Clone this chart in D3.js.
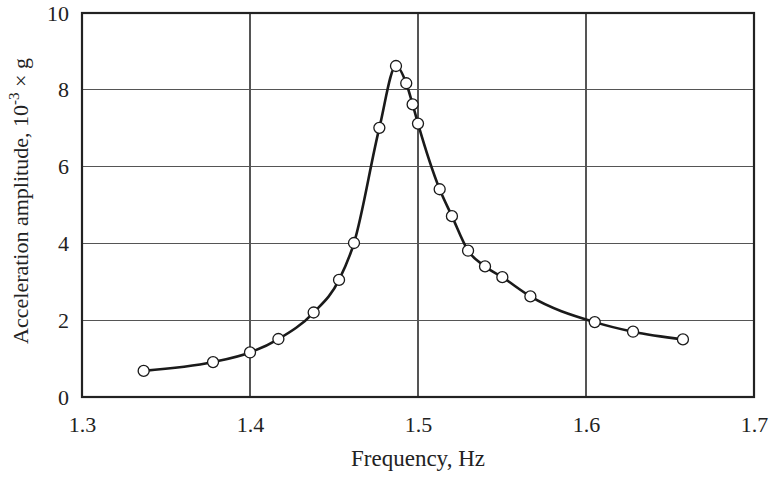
<!DOCTYPE html>
<html>
<head>
<meta charset="utf-8">
<script src="https://cdn.jsdelivr.net/npm/d3@7"></script>
<style>
  html, body { margin: 0; padding: 0; background: #fff; }
  svg { display: block; }
  text { font-family: "Liberation Serif", "Times New Roman", serif; fill: #222; }
</style>
</head>
<body>
<svg id="chart" width="772" height="479"></svg>
<script>
const frequency = [1.3367, 1.378, 1.400, 1.4169, 1.4379, 1.453, 1.4619, 1.477, 1.4869, 1.4930, 1.4968, 1.500, 1.5129, 1.5202, 1.5298, 1.5399, 1.5502, 1.5669, 1.6052, 1.628, 1.6577];
const amplitude = [0.68, 0.91, 1.16, 1.51, 2.2, 3.05, 4.01, 7.01, 8.62, 8.17, 7.62, 7.12, 5.41, 4.71, 3.81, 3.40, 3.12, 2.62, 1.95, 1.70, 1.50];
const xTicks = [1.3, 1.4, 1.5, 1.6, 1.7];
const xTickLabels = ["1.3", "1.4", "1.5", "1.6", "1.7"];
const yTicks = [0, 2, 4, 6, 8, 10];
const yTickLabels = ["0", "2", "4", "6", "8", "10"];
const xTitle = "Frequency, Hz";
const yTitleMain = "Acceleration amplitude, 10";
const yTitleSup = "-3";
const yTitleEnd = " \u00D7 g";

const svg = d3.select("#chart");
const mLeft = 82, mRight = 754, mTop = 13, mBottom = 397;
const x = d3.scaleLinear().domain([1.3, 1.7]).range([mLeft, mRight]);
const y = d3.scaleLinear().domain([0, 10]).range([mBottom, mTop]);

// grid
const grid = svg.append("g");
grid.selectAll("line.v").data(xTicks.slice(1, -1)).join("line")
  .attr("x1", d => x(d)).attr("x2", d => x(d))
  .attr("y1", mTop).attr("y2", mBottom)
  .attr("stroke", "#555").attr("stroke-width", 1.2).attr("shape-rendering", "crispEdges");
grid.selectAll("line.h").data(yTicks.slice(1, -1)).join("line")
  .attr("x1", mLeft).attr("x2", mRight)
  .attr("y1", d => y(d)).attr("y2", d => y(d))
  .attr("stroke", "#555").attr("stroke-width", 1.2).attr("shape-rendering", "crispEdges");

// frame
svg.append("rect").attr("x", mLeft).attr("y", mTop)
  .attr("width", mRight - mLeft).attr("height", mBottom - mTop)
  .attr("fill", "none").attr("stroke", "#222").attr("stroke-width", 2.2);

// axes (labels only)
const xAxis = d3.axisBottom(x).tickValues(xTicks).tickFormat((d, i) => xTickLabels[i]).tickSize(0).tickPadding(19);
const gx = svg.append("g").attr("transform", `translate(0,${mBottom})`).call(xAxis);
gx.select(".domain").remove();
gx.selectAll("text").attr("font-size", 22).attr("font-family", "Liberation Serif").attr("fill", "#222");

const yAxis = d3.axisLeft(y).tickValues(yTicks).tickFormat((d, i) => yTickLabels[i]).tickSize(0).tickPadding(13);
const gy = svg.append("g").attr("transform", `translate(${mLeft},0)`).call(yAxis);
gy.select(".domain").remove();
gy.selectAll("text").attr("font-size", 22).attr("font-family", "Liberation Serif").attr("fill", "#222");

// titles
svg.append("text").attr("x", (mLeft + mRight) / 2).attr("y", 466)
  .attr("text-anchor", "middle").attr("font-size", 23).text(xTitle);

const yt = svg.append("text").attr("transform", "translate(28,201) rotate(-90)")
  .attr("text-anchor", "middle").attr("font-size", 22);
yt.append("tspan").text(yTitleMain);
yt.append("tspan").attr("font-size", 15).attr("dy", -9).text(yTitleSup);
yt.append("tspan").attr("dy", 9).text(yTitleEnd);

// curve
const pts = frequency.map((f, i) => [f, amplitude[i]]);
const line = d3.line().x(d => x(d[0])).y(d => y(d[1])).curve(d3.curveMonotoneX);
svg.append("path").datum(pts).attr("d", line)
  .attr("fill", "none").attr("stroke", "#1a1a1a").attr("stroke-width", 2.6);

svg.append("g").selectAll("circle").data(pts).join("circle")
  .attr("cx", d => x(d[0])).attr("cy", d => y(d[1])).attr("r", 5.5)
  .attr("fill", "#fff").attr("stroke", "#1a1a1a").attr("stroke-width", 1.3);
</script>
</body>
</html>
